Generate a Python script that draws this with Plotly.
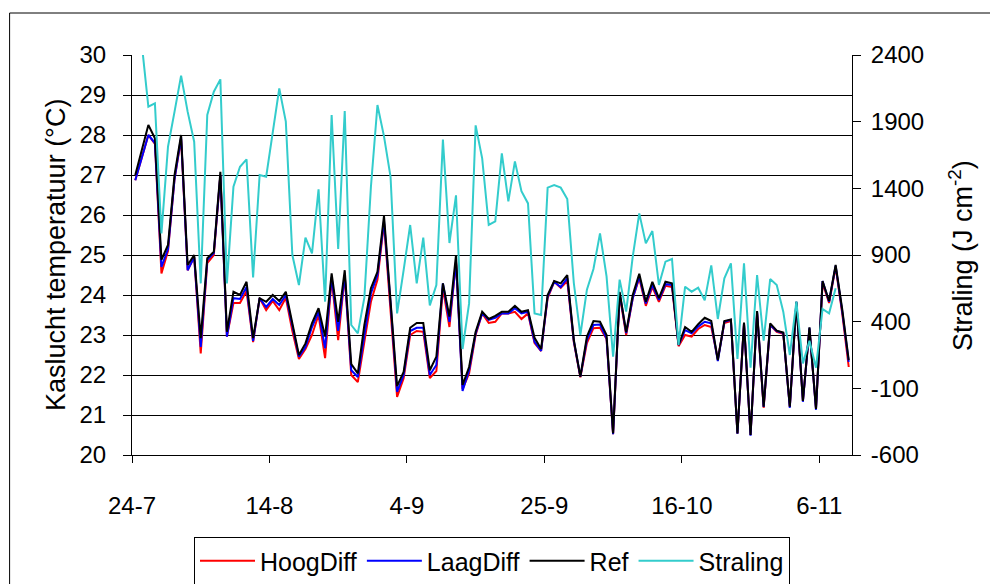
import plotly.graph_objects as go
import pandas as pd

# ---------------- data ----------------
start_day = "2005-07-24"
n_days = 110
tick_dates = ["2005-07-24", "2005-08-14", "2005-09-04", "2005-09-25", "2005-10-16", "2005-11-06"]
tick_labels = ["24-7", "14-8", "4-9", "25-9", "16-10", "6-11"]
straling_ticks = [-600, -100, 400, 900, 1400, 1900, 2400]
straling_tick_labels = ["-600", "-100", "400", "900", "1400", "1900", "2400"]

ref = [27.0, 27.62, 28.25, 27.92, 24.88, 25.25, 27.0, 28.0, 24.75, 25.0,
       22.92, 24.92, 25.08, 27.08, 23.08, 24.08, 24.0, 24.33, 22.92, 23.92,
       23.83, 24.0, 23.85, 24.08, 23.3, 22.5, 22.79, 23.3, 23.67, 22.96,
       24.54, 23.33, 24.62, 22.27, 22.04, 23.25, 24.17, 24.58, 25.98, 23.9,
       21.72, 22.08, 23.18, 23.3, 23.3, 22.12, 22.46, 24.29, 23.46, 25.0,
       21.75, 22.2, 23.08, 23.58, 23.4, 23.48, 23.58, 23.58, 23.73, 23.58,
       23.62, 22.93, 22.65, 24.0, 24.35, 24.29, 24.5, 22.88, 21.96, 22.96,
       23.35, 23.33, 23.0, 20.54, 24.08, 23.07, 24.0, 24.53, 23.83, 24.33,
       23.92, 24.33, 24.29, 22.75, 23.2, 23.08, 23.27, 23.43, 23.35, 22.37,
       23.35, 23.39, 20.54, 23.31, 20.5, 23.6, 21.21, 23.29, 23.11, 23.06,
       21.21, 23.83, 21.35, 23.19, 21.15, 24.35, 23.85, 24.75, 23.65, 22.37]

laagdiff = [26.87, 27.45, 28.0, 27.8, 24.7, 25.15, 26.9, 27.95, 24.62, 24.95,
            22.7, 24.87, 25.05, 27.0, 22.96, 23.92, 23.9, 24.2, 22.85, 23.92,
            23.7, 23.9, 23.75, 24.0, 23.2, 22.46, 22.7, 23.2, 23.58, 22.67,
            24.45, 23.1, 24.5, 22.12, 21.95, 23.0, 24.04, 24.5, 25.85, 23.8,
            21.58, 22.0, 23.1, 23.18, 23.18, 22.0, 22.25, 24.29, 23.33, 24.83,
            21.6, 22.12, 23.04, 23.54, 23.38, 23.43, 23.54, 23.54, 23.67, 23.54,
            23.58, 22.83, 22.6, 23.96, 24.33, 24.2, 24.42, 22.85, 21.96, 22.88,
            23.25, 23.26, 22.92, 20.52, 24.05, 23.05, 23.92, 24.46, 23.79, 24.25,
            23.88, 24.27, 24.25, 22.75, 23.12, 23.04, 23.21, 23.33, 23.29, 22.35,
            23.33, 23.38, 20.53, 23.3, 20.48, 23.58, 21.2, 23.25, 23.1, 23.05,
            21.18, 23.83, 21.33, 23.18, 21.13, 24.35, 23.83, 24.73, 23.6, 22.33]

hoogdiff = [26.87, 27.45, 28.0, 27.78, 24.54, 25.1, 26.9, 27.9, 24.62, 24.95,
            22.54, 24.8, 25.0, 27.0, 22.96, 23.8, 23.8, 24.1, 22.82, 23.92,
            23.62, 23.85, 23.62, 23.93, 23.1, 22.4, 22.65, 23.0, 23.5, 22.42,
            24.4, 22.87, 24.48, 22.0, 21.82, 22.83, 23.83, 24.38, 25.8, 23.6,
            21.45, 21.92, 23.0, 23.1, 23.08, 21.92, 22.1, 24.17, 23.2, 24.83,
            21.65, 22.04, 23.0, 23.54, 23.3, 23.33, 23.54, 23.54, 23.58, 23.4,
            23.54, 22.8, 22.6, 23.92, 24.33, 24.18, 24.35, 22.82, 21.94, 22.8,
            23.17, 23.18, 22.9, 20.52, 24.0, 23.0, 23.92, 24.42, 23.73, 24.2,
            23.83, 24.23, 24.2, 22.72, 23.0, 22.96, 23.15, 23.25, 23.2, 22.4,
            23.3, 23.35, 20.54, 23.28, 20.5, 23.55, 21.18, 23.25, 23.08, 23.03,
            21.2, 23.8, 21.35, 23.15, 21.15, 24.3, 23.8, 24.7, 23.55, 22.2]

straling = [2600, 2480, 2012, 2037, 1062, 1712, 1975, 2245, 1975, 1750,
            687, 1950, 2125, 2217, 687, 1412, 1562, 1617, 732, 1500,
            1487, 1830, 2150, 1900, 900, 675, 1030, 912, 1392, 550,
            1950, 945, 1980, 375, 312, 580, 1410, 2025, 1790, 1487,
            462, 787, 1125, 687, 1030, 522, 675, 1765, 990, 1348,
            195, 537, 1872, 1625, 1125, 1152, 1662, 1302, 1602, 1378,
            1287, 462, 450, 1405, 1425, 1405, 1320, 690, 300, 640,
            795, 1062, 740, 137, 715, 475, 887, 1212, 987, 1080,
            675, 850, 870, 225, 662, 625, 655, 560, 822, 420,
            725, 837, 120, 837, 55, 750, 257, 720, 675, 475,
            150, 550, 87, 257, 55, 495, 462, 650, None, None]

# ---------------- figure ----------------
days = pd.date_range(start_day, periods=n_days, freq="D") + pd.Timedelta(hours=12)
FONT = "Liberation Sans, Arial, sans-serif"

fig = go.Figure()
fig.add_trace(go.Scatter(x=days, y=hoogdiff, name="HoogDiff", mode="lines",
                         line=dict(color="#FF0000", width=2)))
fig.add_trace(go.Scatter(x=days, y=laagdiff, name="LaagDiff", mode="lines",
                         line=dict(color="#0000FF", width=2)))
fig.add_trace(go.Scatter(x=days, y=ref, name="Ref", mode="lines",
                         line=dict(color="#000000", width=2)))
fig.add_trace(go.Scatter(x=days, y=straling, name="Straling", mode="lines",
                         line=dict(color="#33CCCC", width=2), yaxis="y2"))

fig.update_layout(
    width=990, height=584,
    paper_bgcolor="white", plot_bgcolor="white",
    margin=dict(l=132, r=138, t=55, b=129, autoexpand=False),
    font=dict(family=FONT, size=24, color="black"),
    showlegend=True,
    legend=dict(orientation="h", x=0.5, xanchor="center", y=-0.205, yanchor="top",
                bordercolor="black", borderwidth=1, bgcolor="white",
                font=dict(family=FONT, size=25, color="black"),
                itemwidth=55, traceorder="normal"),
    xaxis=dict(type="date", range=["2005-07-24", "2005-11-11"],
               tickvals=tick_dates, ticktext=tick_labels,
               showgrid=False, zeroline=False, automargin=False,
               showline=True, linecolor="black", linewidth=1,
               ticks="outside", ticklen=7, tickcolor="black", tickwidth=1,
               ticklabelstandoff=22,
               tickfont=dict(family=FONT, size=24, color="black")),
    yaxis=dict(range=[20, 30], dtick=1, tick0=20, automargin=False,
               showgrid=True, gridcolor="black", gridwidth=1, zeroline=False,
               showline=True, linecolor="black", linewidth=1,
               ticks="outside", ticklen=8, tickcolor="black",
               ticklabelstandoff=12,
               tickfont=dict(family=FONT, size=24, color="black")),
    yaxis2=dict(range=[-600, 2400], tickvals=straling_ticks,
                ticktext=straling_tick_labels, automargin=False,
                overlaying="y", side="right", anchor="x",
                showgrid=False, zeroline=False,
                showline=True, linecolor="black", linewidth=1,
                ticks="outside", ticklen=8, tickcolor="black",
                ticklabelstandoff=5,
                tickfont=dict(family=FONT, size=24, color="black")),
    yaxis3=dict(range=[-600, 2400], tickvals=straling_ticks, automargin=False,
                overlaying="y", side="right", anchor="x",
                showgrid=False, zeroline=False, showline=False,
                ticks="inside", ticklen=8, tickcolor="black",
                showticklabels=False),
    shapes=[dict(type="rect", xref="paper", yref="paper",
                 x0=-0.17, x1=1.3, y0=-0.6, y1=1.105,
                 line=dict(color="black", width=1), fillcolor="rgba(0,0,0,0)",
                 layer="below")],
    annotations=[
        dict(text="Kaslucht temperatuur (°C)", xref="paper", yref="paper",
             x=(56 - 132) / 720, y=0.5, textangle=-90, showarrow=False,
             xanchor="center", yanchor="middle",
             font=dict(family=FONT, size=27, color="black")),
        dict(text="Straling (J cm<sup>-2</sup>)", xref="paper", yref="paper",
             x=(961 - 132) / 720, y=0.5, textangle=-90, showarrow=False,
             xanchor="center", yanchor="middle",
             font=dict(family=FONT, size=27, color="black")),
    ],
)

fig.write_html("out.html", config={"displayModeBar": False},
               post_script="document.body.style.margin='0';")
